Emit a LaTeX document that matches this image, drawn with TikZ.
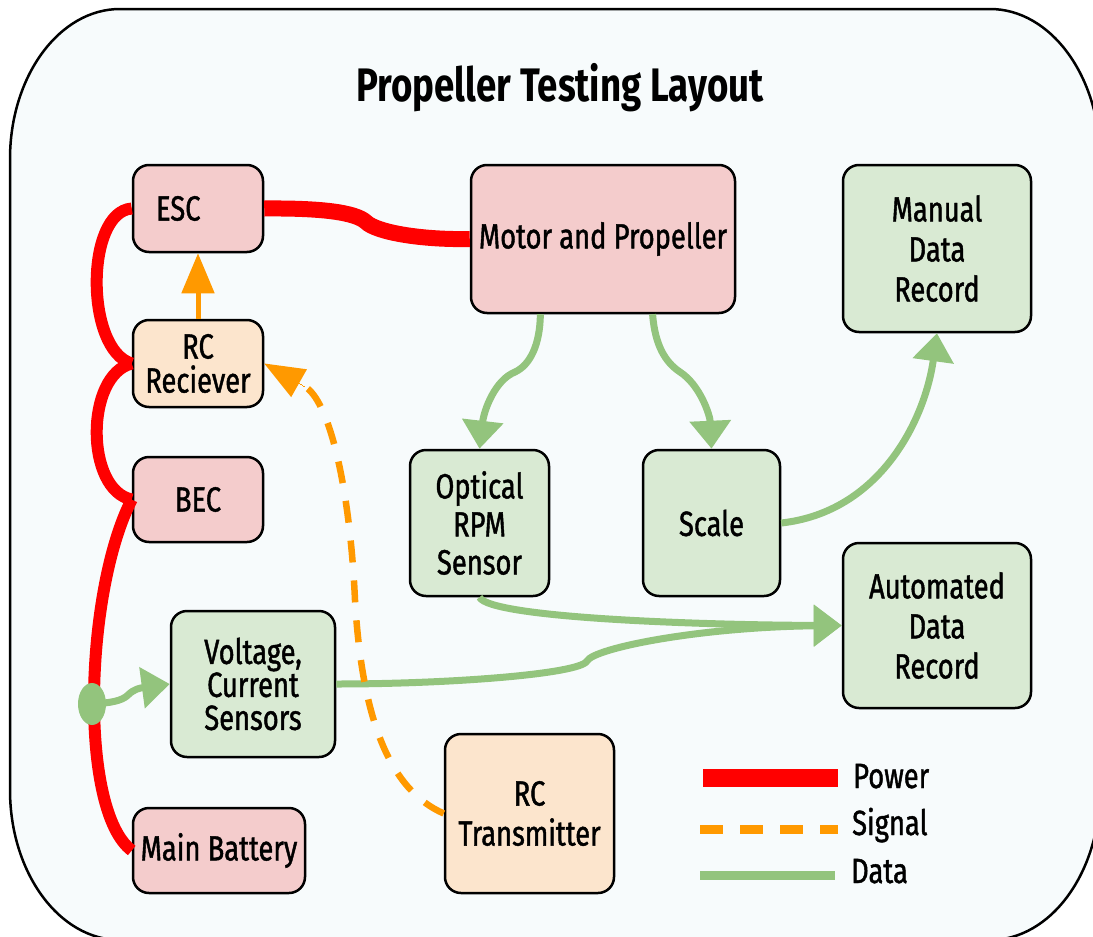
\documentclass[tikz,border=0pt]{standalone}
\usepackage{fontspec}
\setmainfont{Fira Sans}[FakeStretch=0.78, UprightFeatures={FakeBold=1.2}]
\usetikzlibrary{arrows.meta,shapes.geometric,calc}
\definecolor{bgpale}{HTML}{F7FBFC}
\definecolor{pinkfill}{HTML}{F4CCCC}
\definecolor{peachfill}{HTML}{FCE5CD}
\definecolor{greenfill}{HTML}{D9EAD3}
\definecolor{datagreen}{HTML}{93C47D}
\definecolor{powerred}{HTML}{FF0000}
\definecolor{sigorange}{HTML}{FF9900}
\tikzset{
  box/.style={draw=black, line width=2.5pt, rounded corners=16pt, align=center,
    inner sep=4pt, font=\fontsize{35}{40}\selectfont},
  pinkbox/.style={box, fill=pinkfill},
  peachbox/.style={box, fill=peachfill},
  greenbox/.style={box, fill=greenfill},
  power/.style={draw=powerred, line width=12pt},
  signal/.style={draw=sigorange, line width=6.5pt, dash pattern=on 22pt off 18pt},
  data/.style={draw=datagreen, line width=7pt},
  dataarrow/.style={data, -{Triangle[length=28pt,width=40pt]}},
  sigarrow/.style={draw=sigorange, line width=6pt, -{Triangle[length=40pt,width=32pt]}},
  legendtext/.style={anchor=base west, font=\fontsize{35}{40}\selectfont, inner sep=0pt},
}
\begin{document}
\begin{tikzpicture}[x=1pt,y=-1pt]
\useasboundingbox (0,0) rectangle (1093,937);
\clip (0,0) rectangle (1093,937);

% outer frame with elliptical corners
\draw[line width=2.5pt, fill=bgpale]
  (120,9) -- (990,9)
  .. controls (1050.7,9) and (1100,76.2) .. (1100,159)
  -- (1100,790)
  .. controls (1100,872.8) and (1050.7,940) .. (990,940)
  -- (120,940)
  .. controls (59.3,940) and (10,872.8) .. (10,790)
  -- (10,159)
  .. controls (10,76.2) and (59.3,9) .. (120,9) -- cycle;

% title
\node[font=\bfseries\fontsize{47}{50}\selectfont] (title) at (560,88) {Propeller Testing Layout};

% blocks
\node[pinkbox, minimum width=130pt, minimum height=87pt, text width=84pt, align=left, inner xsep=23pt] (esc) at (198,208.5) {ESC};
\node[peachbox, minimum width=130pt, minimum height=87pt, font=\fontsize{35}{34}\selectfont] (rcr) at (198,363.5) {RC\\Reciever};
\node[pinkbox, minimum width=130pt, minimum height=85pt] (bec) at (198,499.5) {BEC};
\node[pinkbox, minimum width=172pt, minimum height=85pt] (bat) at (219,850.5) {Main Battery};
\node[greenbox, minimum width=164pt, minimum height=146pt, font=\fontsize{35}{33}\selectfont] (vc) at (253,684) {Voltage,\\Current\\Sensors};
\node[greenbox, minimum width=139pt, minimum height=146pt, font=\fontsize{35}{38}\selectfont] (opt) at (479.5,523) {Optical\\RPM\\Sensor};
\node[greenbox, minimum width=137pt, minimum height=146pt] (sc) at (711.5,523) {Scale};
\node[pinkbox, minimum width=264pt, minimum height=148pt] (mp) at (603,239) {Motor and Propeller};
\node[greenbox, minimum width=188pt, minimum height=167pt] (mdr) at (937,248.5) {Manual\\Data\\Record};
\node[greenbox, minimum width=188pt, minimum height=165pt] (aut) at (937,625.5) {Automated\\Data\\Record};
\node[peachbox, minimum width=169pt, minimum height=159pt] (rct) at (529.5,813.5) {RC\\Transmitter};

% power wiring
\draw[power, line width=16pt] (esc.east) .. controls (320,208) and (355,212) .. (366,222)
  .. controls (376,232) and (420,240) .. (mp.west);
\draw[power] (esc.west) .. controls (85,212) and (85,350) .. (rcr.west);
\draw[power] (rcr.west) .. controls (85,375) and (85,490) .. (bec.west);
\draw[power] (bec.west) .. controls (85,590) and (78,810) .. (bat.west);

% measurement tap on the battery line
\node[ellipse, fill=datagreen, minimum width=28pt, minimum height=42pt, inner sep=0pt] (tap) at (92,704) {};

% data flow
\draw[dataarrow] (tap.center) .. controls (110,703) and (122,701) .. (128,695)
  .. controls (134,689) and (140,688) .. (vc.west);
\draw[dataarrow] (vc.east) .. controls (450,684) and (580,674) .. (587,661)
  .. controls (594,648) and (700,627) .. (aut.west);
\draw[dataarrow] (opt.south) .. controls (490,618) and (700,625) .. (aut.west);
\coordinate (m1) at ($(mp.south west)!0.265!(mp.south east)$);
\coordinate (m2) at ($(mp.south west)!0.686!(mp.south east)$);
\draw[dataarrow] (m1) .. controls (540,345) and (530,365) .. (515,372)
  .. controls (495,380) and (484,410) .. (opt.north);
\draw[dataarrow] (m2) .. controls (655,345) and (665,362) .. (680,372)
  .. controls (700,385) and (710,415) .. (sc.north);
\draw[dataarrow] (sc.east) .. controls (880,512) and (925,420) .. (mdr.south);

% control signals
\draw[sigarrow, line width=5pt] (rcr.north) -- (esc.south);
\draw[signal] (rct.west) .. controls (390,790) and (362,720) .. (355,600)
  .. controls (350,490) and (330,400) .. (304,386);
\draw[sigarrow, line width=0pt] (304,386) -- (rcr.east);

% legend
\coordinate (lpa) at (703,778); \coordinate (lpb) at (838,778);
\coordinate (lsa) at (700,829); \coordinate (lsb) at (838,829);
\coordinate (lda) at (700,875); \coordinate (ldb) at (835,875);
\draw[power, line width=18pt] (lpa) -- (lpb);
\draw[signal, line width=9pt, dash pattern=on 23pt off 17pt] (lsa) -- (lsb);
\draw[data, line width=9pt] (lda) -- (ldb);
\node[legendtext] (lpower) at (853,788) {Power};
\node[legendtext] (lsignal) at (852,835) {Signal};
\node[legendtext] (ldata) at (851,883) {Data};
\end{tikzpicture}
\end{document}
